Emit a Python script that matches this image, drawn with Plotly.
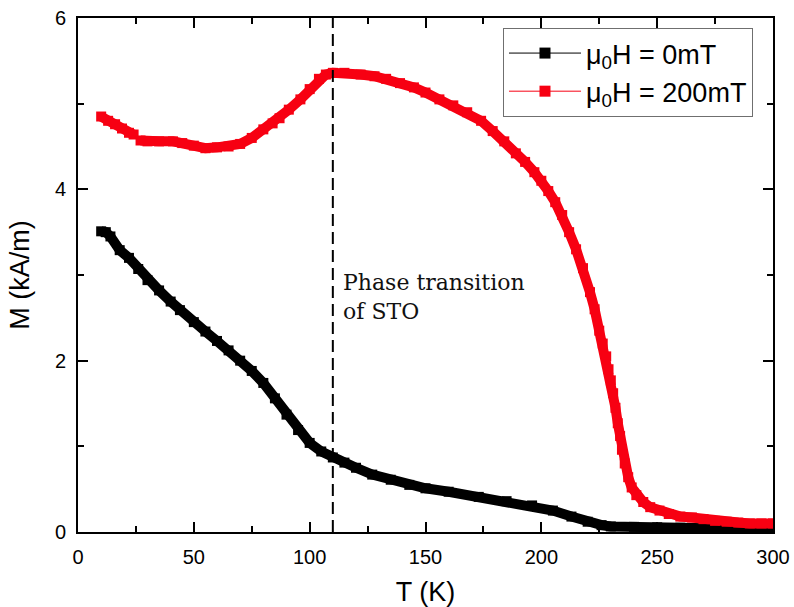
import plotly.graph_objects as go

# ---- data ----
T_0mT = [10, 12, 14, 18, 22, 26, 30, 35, 40, 44, 50, 55, 60, 65, 70, 75, 80, 85, 90,
         95, 100, 105, 110, 115, 120, 127, 135, 143, 150, 160, 173, 185,
         196, 205, 213, 220, 226, 230, 240, 250, 260, 270, 280, 290, 300]
M_0mT = [3.51, 3.50, 3.45, 3.29, 3.20, 3.07, 2.94, 2.82, 2.69, 2.59, 2.45, 2.34, 2.23,
         2.12, 2.00, 1.88, 1.74, 1.56, 1.37, 1.19, 1.04, 0.94, 0.87,
         0.81, 0.75, 0.67, 0.61, 0.55, 0.51, 0.47, 0.41, 0.36, 0.31, 0.25, 0.18, 0.12,
         0.08, 0.065, 0.06, 0.055, 0.05, 0.04, 0.035, 0.03, 0.03]

T_200mT = [10, 13, 16, 19, 22, 24, None, 27, 30, 35, 41, 45, 50, 55, 60, 65, 70, 75, 80,
           84, 87, 91, 96, 100, 104, 107, 110, 115, 122, 128, 133, 139, 145, 150, 156,
           162, 168, 174, 179, 184, 189, 193, 197, 200, 203, 206, 209, 212, 215, 218,
           221, 223, 225, 226.5, 228, 229, 230, 231, 232, 233, 234, 234.8, 236, 237.5,
           239, 241, 244, 247, 251, 255, 260, 265, 270, 275, 280, 285, 290, 295, 300]
M_200mT = [4.85, 4.80, 4.76, 4.71, 4.66, 4.64, None, 4.57, 4.56, 4.56, 4.56, 4.54, 4.51,
           4.48, 4.49, 4.50, 4.53, 4.60, 4.70, 4.77, 4.83, 4.93, 5.05, 5.17, 5.29, 5.34,
           5.36, 5.36, 5.34, 5.32, 5.29, 5.24, 5.19, 5.13, 5.05, 4.98, 4.90, 4.80, 4.68,
           4.56, 4.42, 4.32, 4.20, 4.10, 3.98, 3.85, 3.70, 3.50, 3.30, 3.08, 2.80, 2.60,
           2.35, 2.20, 2.05, 1.90, 1.77, 1.62, 1.45, 1.27, 1.12, 0.96, 0.80, 0.64, 0.52,
           0.43, 0.35, 0.29, 0.25, 0.21, 0.18, 0.17, 0.15, 0.13, 0.12, 0.11, 0.10, 0.10,
           0.10]

transition_T = 110
series_names = ["μ<sub>0</sub>H = 0mT", "μ<sub>0</sub>H = 200mT"]
colors = ["#000000", "#f70012"]

fig = go.Figure()

for T, M, c in [(T_0mT, M_0mT, colors[0]), (T_200mT, M_200mT, colors[1])]:
    fig.add_trace(go.Scatter(
        x=T, y=M, mode="lines+markers",
        line=dict(color=c, width=10),
        marker=dict(symbol="square", size=10, color=c),
        showlegend=False, hoverinfo="skip", connectgaps=False))

# legend-only entries
for name, c in zip(series_names, colors):
    fig.add_trace(go.Scatter(
        x=[None], y=[None], mode="lines+markers", name=name,
        line=dict(color=c, width=1),
        marker=dict(symbol="square", size=11, color=c)))

fig.add_shape(type="line", xref="x", yref="paper", x0=transition_T, x1=transition_T,
              y0=0, y1=1, line=dict(color="black", width=2, dash="12px,6px"))

fig.add_annotation(x=transition_T, y=0.514, xref="x", yref="paper",
                   xanchor="left", yanchor="top", xshift=8, yshift=0,
                   text="Phase transition<br>of STO", showarrow=False, align="left",
                   font=dict(family="DejaVu Serif", size=22, color="#111"))

axis_common = dict(
    showline=True, linecolor="black", linewidth=2, mirror="allticks",
    ticks="inside", ticklen=10, tickwidth=1.5, tickcolor="black",
    showgrid=False, zeroline=False, automargin=False,
    tickfont=dict(family="Liberation Sans, Arial", size=20, color="black"),
)

fig.update_xaxes(range=[0, 300], dtick=50, tick0=0,
                 minor=dict(dtick=25, ticks="inside", ticklen=6, tickwidth=1.5, tickcolor="black"),
                 title=dict(text="T (K)", font=dict(family="Liberation Sans, Arial", size=27, color="black"), standoff=16),
                 ticklabelstandoff=6,
                 **axis_common)
fig.update_yaxes(range=[0, 6], dtick=2, tick0=0,
                 minor=dict(dtick=1, ticks="inside", ticklen=6, tickwidth=1.5, tickcolor="black"),
                 title=dict(text="M (kA/m)", font=dict(family="Liberation Sans, Arial", size=27, color="black"), standoff=17),
                 ticklabelstandoff=6,
                 **axis_common)

fig.update_layout(
    width=794, height=607,
    margin=dict(l=78, r=21, t=18, b=75),
    paper_bgcolor="white", plot_bgcolor="white",
    font=dict(family="Liberation Sans, Arial", color="black"),
    legend=dict(x=0.6115, y=0.9805, xanchor="left", yanchor="top",
                bordercolor="#6f6f6f", borderwidth=1, bgcolor="white",
                font=dict(family="Liberation Sans, Arial", size=27, color="black"),
                itemwidth=72),
)

fig.write_html("out.html")
